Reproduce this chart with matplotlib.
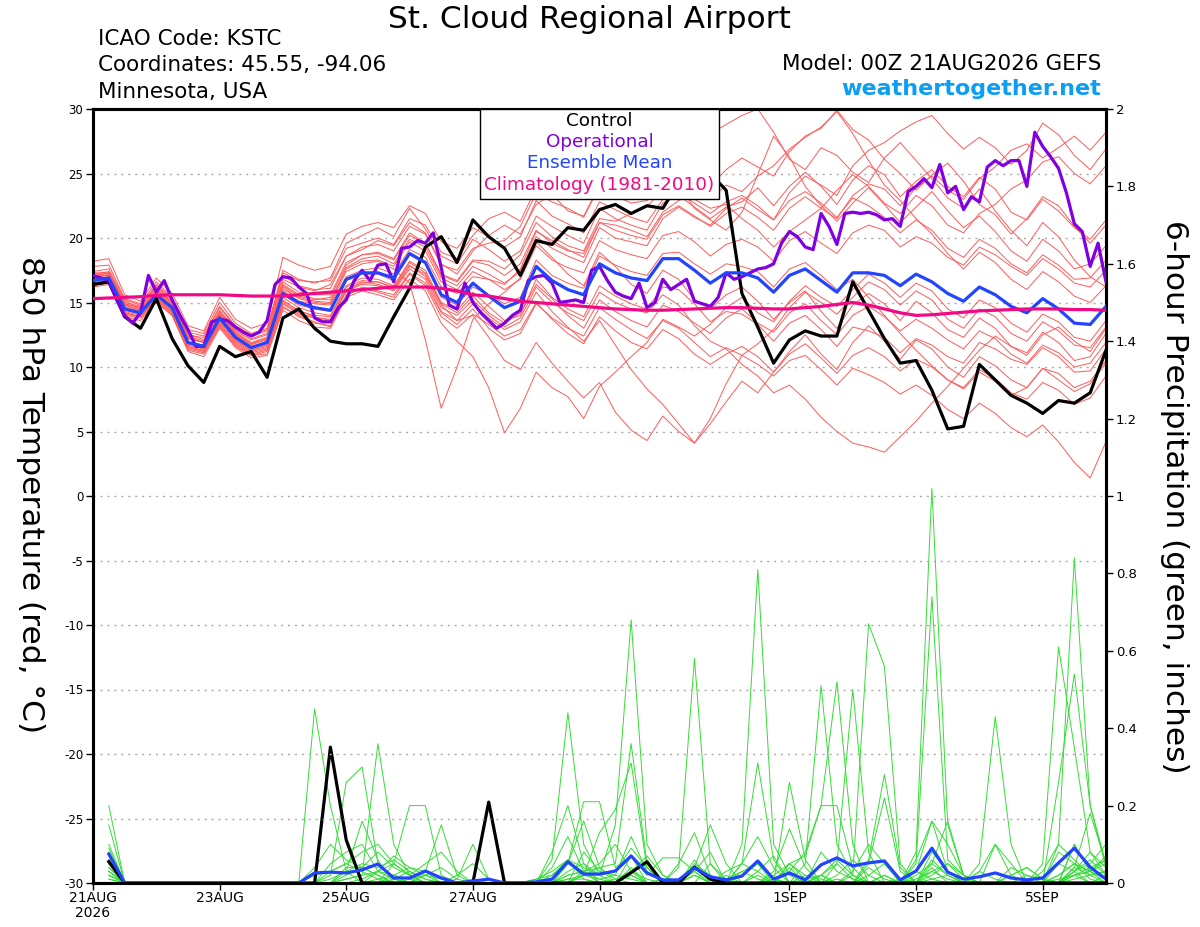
import numpy as np
import matplotlib
matplotlib.use("Agg")
import matplotlib.pyplot as plt
from matplotlib.patches import Rectangle

plt.rcParams['font.family'] = ['DejaVu Sans']
plt.rcParams['axes.unicode_minus'] = False

# ---------------- data ----------------
hours = np.arange(65) * 6          # 00Z 21AUG .. +384 h
hours_op = np.arange(129) * 3      # operational, 3-hourly
hours_pr = hours[1:]               # 6-h precip accumulations

tick_hours = [0, 48, 96, 144, 192, 264, 312, 360]
tick_labels = ["21AUG\n2026", "23AUG", "25AUG", "27AUG", "29AUG", "1SEP", "3SEP", "5SEP"]

legend_labels = ["Control", "Operational", "Ensemble Mean", "Climatology (1981-2010)"]

control_t = [16.4,16.6,13.9,13.0,15.3,12.2,10.1,8.8,11.6,10.8,11.2,9.2,13.8,
             14.5,13.0,12.0,11.8,11.8,11.6,13.9,16.1,19.3,20.1,18.1,21.4,20.1,
             19.2,17.1,19.8,19.5,20.8,20.6,22.2,22.6,21.9,22.5,22.3,24.3,25.4,
             25.0,23.7,15.7,13.1,10.3,12.1,12.8,12.4,12.4,16.6,14.4,12.2,10.3,
             10.5,8.2,5.2,5.4,10.2,9.0,7.8,7.2,6.4,7.4,7.2,8.0,11.3]

operational_t = [17.1,16.9,16.7,15.2,14.0,13.4,14.2,17.1,15.8,16.7,
                 15.2,14.0,12.9,11.6,11.6,13.5,13.7,13.6,13.1,12.7,
                 12.4,12.7,13.6,16.4,17.0,16.9,16.2,15.7,13.8,13.5,
                 13.5,14.6,15.2,16.7,17.5,16.7,17.9,18.0,16.6,19.2,
                 19.3,19.8,19.6,20.4,17.7,14.8,14.5,16.5,15.0,14.2,
                 13.6,13.0,13.4,14.0,14.4,16.7,17.0,17.1,16.5,15.0,
                 15.1,15.2,15.0,17.5,17.8,16.7,15.8,15.5,15.3,16.5,
                 14.6,15.0,16.8,16.0,16.4,16.8,15.1,14.9,14.7,15.4,
                 17.3,16.8,17.0,17.3,17.6,17.7,18.0,19.6,20.5,20.1,
                 19.3,19.1,21.9,20.9,19.5,21.9,22.0,21.9,22.0,21.8,
                 21.4,21.5,20.9,23.6,24.0,24.6,23.9,25.7,23.5,24.0,
                 22.2,23.2,22.8,25.5,26.0,25.6,26.0,26.0,24.0,28.2,
                 27.1,26.3,25.4,23.5,21.1,20.5,17.8,19.6,16.6]

mean_t = [16.7,16.9,14.5,14.2,15.6,14.6,11.9,11.6,13.8,12.3,11.5,11.9,15.7,
          15.0,14.6,14.4,16.8,17.3,17.3,16.9,18.8,18.1,15.6,15.0,16.5,15.5,
          14.6,15.1,17.8,16.7,16.0,15.6,18.0,17.3,16.9,16.7,18.4,18.4,17.5,
          16.5,17.3,17.3,16.9,15.8,17.1,17.6,16.7,15.8,17.3,17.3,17.1,16.3,
          17.2,16.6,15.7,15.1,16.2,15.6,14.7,14.2,15.3,14.5,13.4,13.3,14.7]

clim_t = [15.3,15.35,15.4,15.45,15.55,15.6,15.6,15.6,15.6,15.55,15.5,15.5,15.5,
          15.6,15.7,15.8,15.9,16.0,16.1,16.2,16.2,16.2,16.1,15.9,15.6,15.5,
          15.3,15.1,15.0,14.9,14.8,14.7,14.6,14.5,14.45,14.4,14.4,14.45,14.5,
          14.55,14.6,14.6,14.55,14.5,14.5,14.6,14.7,14.85,15.0,14.8,14.5,14.2,
          14.0,14.05,14.15,14.25,14.35,14.4,14.45,14.5,14.5,14.5,14.45,14.45,14.4]

member_t = [
 [17.2,17.4,15.1,14.6,16.3,15.2,12.6,12.1,14.4,12.9,12.2,12.6,16.8,
  16.2,15.9,16.4,18.6,19.1,19.8,19.4,21.2,20.4,18.0,17.2,19.0,20.2,
  21.0,20.3,22.6,23.4,22.1,21.7,24.1,25.0,24.2,23.6,25.8,26.9,27.5,
  28.1,28.8,29.5,30.0,28.2,26.1,25.3,27.0,26.4,25.1,24.3,26.2,27.4,
  26.0,24.6,23.1,22.3,23.8,22.1,20.6,19.4,21.2,20.1,18.3,17.0,16.2],
 [16.3,16.5,14.0,13.8,15.0,14.0,11.2,10.8,13.0,11.6,10.9,11.0,14.6,
  14.0,13.5,13.1,15.5,16.2,15.9,15.6,17.3,16.5,14.2,13.3,14.5,13.0,
  12.1,12.6,14.9,13.8,13.0,12.4,14.6,13.7,12.9,12.2,13.6,13.0,11.9,
  10.8,11.5,10.9,10.2,9.3,10.5,10.9,9.8,8.6,9.9,9.4,8.8,7.9,
  8.6,7.8,6.7,6.0,7.2,6.4,5.3,4.6,5.5,4.2,2.6,1.4,4.2],
 [17.0,17.1,14.7,14.3,15.9,14.8,12.2,11.9,14.1,12.6,11.8,12.1,16.2,
  15.3,15.0,14.9,17.4,18.0,18.2,17.6,16.5,12.1,6.8,10.0,13.7,14.9,
  15.8,16.9,19.7,18.5,17.2,16.3,18.9,17.8,16.4,15.7,17.5,16.8,15.2,
  14.5,15.6,16.2,15.1,13.7,15.0,15.9,14.3,13.0,14.8,15.7,14.9,13.6,
  15.1,14.2,12.9,12.3,13.8,13.0,11.6,11.1,12.7,11.9,10.5,10.8,12.6],
 [16.5,16.8,14.3,14.0,15.4,14.3,11.6,11.3,13.5,12.0,11.2,11.5,15.1,
  14.4,13.9,13.6,16.0,16.6,16.4,16.0,17.8,17.2,14.8,13.6,14.0,12.3,
  10.5,9.8,11.9,10.3,8.9,7.6,8.8,6.5,5.1,4.3,6.2,5.0,4.1,
  5.6,7.3,8.9,8.0,9.6,11.2,12.5,11.0,9.8,11.9,13.2,12.0,10.6,
  12.1,11.4,10.0,9.2,10.8,10.1,9.0,8.4,9.9,9.0,8.1,8.7,10.3],
 [17.8,17.9,15.3,14.9,16.6,15.4,12.9,12.6,15.0,13.4,12.6,13.0,17.5,
  16.8,16.5,16.9,19.6,20.2,20.8,20.1,22.3,20.7,18.6,18.0,19.9,19.1,
  18.2,19.0,21.7,20.9,20.2,19.6,22.3,21.5,21.0,20.6,22.7,23.3,22.4,
  21.5,22.4,22.8,23.9,22.5,24.0,25.1,24.0,22.6,24.5,25.6,24.9,23.2,
  24.4,25.3,24.0,23.2,24.7,23.8,22.0,21.4,23.0,22.1,20.8,19.9,21.4],
 [16.9,17.2,14.8,14.4,15.8,14.7,11.8,11.5,13.7,12.1,11.3,11.7,15.4,
  14.6,14.2,14.0,16.3,16.9,16.8,16.3,18.2,17.5,15.0,14.4,15.8,14.7,
  13.6,14.0,16.8,15.4,14.5,13.9,16.3,15.5,14.9,14.5,16.2,16.0,14.9,
  13.5,14.3,14.1,13.3,12.0,13.4,14.0,12.9,11.6,13.1,12.8,12.3,11.1,
  12.2,11.7,10.8,10.3,11.9,11.4,10.6,10.2,11.5,10.8,9.6,9.7,11.4],
 [16.6,16.9,14.6,14.1,15.5,14.4,11.9,11.7,14.0,12.5,11.7,12.2,16.0,
  15.4,15.1,15.0,17.7,18.4,18.6,18.0,19.9,19.3,16.9,16.3,17.8,17.2,
  16.5,17.4,20.1,19.2,18.6,18.1,20.8,20.0,19.7,19.4,21.5,22.4,21.6,
  21.0,22.3,23.1,22.2,21.4,23.5,24.8,24.1,23.3,25.6,26.8,27.4,28.3,
  29.0,29.5,28.1,26.9,27.8,27.0,25.7,26.8,28.9,28.0,26.4,25.3,26.9],
 [16.4,16.6,14.2,13.9,15.3,14.2,11.5,11.2,13.3,11.8,11.0,11.3,14.9,
  14.1,13.8,13.7,16.0,16.5,16.6,16.1,17.9,17.0,14.6,14.0,15.2,14.0,
  13.1,13.8,16.2,15.0,14.2,13.6,15.8,15.0,14.5,14.2,15.6,14.8,13.2,
  12.0,11.4,10.2,9.3,8.0,8.6,7.5,6.1,5.0,4.1,3.8,3.4,4.6,
  5.8,7.2,8.5,9.9,11.3,12.4,11.6,10.9,12.5,13.1,12.0,11.2,13.0],
 [17.3,17.3,15.0,14.7,16.2,15.1,12.4,12.3,14.6,13.1,12.4,12.8,17.1,
  16.3,16.0,16.1,18.6,19.3,19.5,19.0,20.9,20.3,17.9,17.5,19.2,19.6,
  19.8,20.9,23.5,22.8,22.3,21.6,24.0,23.3,22.7,22.9,24.6,25.3,24.6,
  24.0,25.3,26.2,25.5,24.8,26.7,27.9,28.5,29.9,28.4,27.6,26.1,25.0,
  23.7,24.9,25.8,24.4,22.6,21.8,20.3,21.5,23.2,22.5,20.9,19.6,21.0],
 [17.0,17.1,14.9,14.5,15.9,15.0,12.3,11.9,14.2,12.7,11.9,12.3,16.4,
  15.6,15.3,15.2,17.6,18.2,18.3,17.8,19.7,19.0,16.6,16.0,17.4,16.8,
  16.0,16.8,19.4,18.3,17.7,17.3,19.8,19.1,18.7,18.4,20.2,20.5,19.7,
  18.6,19.5,19.9,19.3,18.2,19.8,20.5,19.6,18.8,20.4,21.0,20.6,19.3,
  20.1,19.6,18.5,17.9,19.3,18.7,17.8,17.1,18.4,17.6,16.5,16.2,17.5],
 [16.2,16.4,13.9,13.6,15.1,14.0,11.3,11.0,13.1,11.5,10.7,10.9,14.4,
  13.6,13.1,13.0,15.4,15.9,15.6,15.2,16.8,15.9,13.4,12.0,10.8,8.4,
  4.9,6.8,9.6,8.4,7.7,6.0,8.5,9.6,10.8,11.9,13.7,13.1,12.4,
  13.3,14.6,15.4,14.2,13.5,15.1,16.3,15.4,14.7,16.0,17.2,16.5,15.4,
  16.5,15.9,14.5,13.8,15.2,14.6,13.4,12.7,14.1,13.5,12.3,12.0,13.6],
 [16.8,17.0,14.6,14.2,15.7,14.6,11.9,11.7,13.9,12.4,11.6,12.0,15.9,
  15.1,14.9,14.8,17.0,17.5,17.7,17.2,19.1,18.5,16.2,15.7,17.0,16.8,
  16.4,17.6,20.5,19.8,19.1,18.5,21.2,21.0,20.6,20.1,22.0,22.9,23.5,
  23.0,24.1,23.6,24.8,25.6,26.9,27.8,28.6,29.8,28.1,26.0,24.1,22.9,
  21.5,20.3,18.8,17.6,18.9,18.1,16.8,16.0,17.4,16.6,15.5,15.0,16.3],
 [16.5,16.7,14.1,13.9,15.2,14.1,11.4,11.1,13.2,11.7,10.9,11.2,14.7,
  13.9,13.4,13.2,15.6,16.1,15.8,15.4,17.2,16.3,13.9,13.0,14.1,13.3,
  12.4,12.9,15.0,13.7,12.6,11.8,13.9,12.8,11.9,11.4,12.9,12.2,11.0,
  10.2,11.0,11.6,10.8,9.6,11.0,11.8,10.7,9.5,10.9,11.5,10.8,9.7,
  10.6,10.0,9.0,8.4,9.8,9.1,8.0,7.5,8.8,8.2,7.1,7.6,9.3],
 [17.4,17.6,15.2,14.8,16.4,15.3,12.7,12.4,14.7,13.2,12.5,12.9,17.3,
  16.7,16.6,16.7,19.2,19.6,20.0,19.5,21.5,21.0,18.9,18.4,20.2,21.5,
  22.0,21.3,23.9,24.8,24.0,25.3,26.7,25.5,24.3,23.6,24.8,24.1,22.3,
  21.4,20.6,22.0,24.9,27.9,26.3,24.0,22.5,21.3,22.7,23.9,22.6,21.2,
  22.4,23.6,22.1,20.8,21.7,20.5,19.0,18.2,19.9,19.0,17.6,18.0,19.4],
 [16.8,17.0,14.4,14.1,15.6,14.5,11.8,11.4,13.7,12.2,11.4,11.8,15.6,
  14.8,14.5,14.3,16.7,17.2,17.2,16.7,18.7,18.0,15.4,14.8,16.2,15.6,
  14.9,15.4,18.3,17.1,16.5,16.1,18.6,17.9,17.4,17.1,18.8,18.9,18.0,
  17.2,18.0,17.8,17.4,16.2,17.6,18.1,17.1,16.0,16.8,15.4,14.0,12.6,
  11.3,10.1,9.0,8.3,9.6,8.9,7.8,8.4,9.9,9.5,8.4,8.9,10.5],
 [17.1,17.3,14.8,14.4,16.0,14.9,12.2,11.9,14.1,12.6,11.8,12.3,16.3,
  15.5,15.2,15.4,17.9,18.7,18.9,18.4,20.4,19.6,17.2,16.7,18.3,18.2,
  17.6,18.7,21.2,20.1,19.4,19.0,21.5,21.3,21.9,22.4,23.8,24.1,23.0,
  22.3,22.6,21.5,20.6,19.3,20.5,21.4,22.3,23.7,24.9,24.0,22.7,21.9,
  23.3,22.5,21.0,20.4,21.9,22.6,23.8,24.5,25.9,26.3,25.0,24.2,25.6],
 [16.4,16.6,14.2,13.9,15.3,14.3,11.6,11.2,13.4,11.9,11.1,11.4,15.0,
  14.2,13.8,13.5,15.9,16.4,16.3,15.9,17.6,16.8,14.3,13.6,14.9,13.8,
  12.9,13.5,15.8,14.3,13.1,12.0,13.6,11.7,9.8,8.3,7.1,5.6,4.1,
  6.0,8.7,10.9,11.8,12.9,14.6,15.8,15.0,14.1,15.4,16.6,16.0,14.8,
  15.9,15.2,13.7,13.0,14.5,13.9,12.6,12.0,13.5,12.8,11.7,11.5,13.1],
 [17.0,17.3,14.9,14.6,16.1,15.0,12.4,12.0,14.3,12.8,12.1,12.5,16.6,
  15.8,15.6,15.6,18.1,18.7,18.8,18.3,20.2,19.6,17.1,16.6,18.2,17.9,
  17.1,18.0,20.6,19.6,19.0,18.8,21.2,20.6,20.2,19.9,21.8,22.5,21.7,
  20.9,21.9,22.4,21.6,20.6,22.3,23.2,22.3,21.5,23.3,24.2,23.8,22.5,
  23.9,24.8,23.7,23.0,24.6,25.5,26.8,27.3,26.2,27.0,27.9,26.8,28.2],
 [16.7,16.9,14.5,14.2,15.5,14.5,11.7,11.4,13.6,12.1,11.3,11.6,15.2,
  14.3,14.0,13.9,16.2,16.7,16.6,16.2,18.1,17.3,14.9,14.2,15.5,14.2,
  13.4,14.2,16.4,15.3,14.0,13.0,15.2,14.3,13.6,13.1,14.8,14.3,13.4,
  12.6,13.8,14.5,13.4,12.7,14.2,14.9,13.6,12.5,14.0,14.7,13.9,12.8,
  13.7,13.0,12.1,11.4,12.8,12.2,11.0,10.3,11.7,11.1,10.0,10.3,11.9],
 [18.2,18.4,15.6,15.1,16.9,15.7,13.2,12.8,15.4,13.7,13.0,13.4,18.5,
  17.9,17.5,17.8,20.3,20.9,21.2,20.8,22.5,21.9,19.7,19.2,20.8,20.1,
  19.3,20.1,22.9,21.7,21.1,20.4,22.8,22.2,21.6,21.2,23.0,23.6,22.7,
  21.9,22.8,23.3,22.5,21.4,22.9,23.6,22.7,21.6,23.1,22.5,21.6,20.4,
  21.4,20.6,19.2,18.5,19.9,19.2,18.0,17.3,18.7,17.9,16.8,16.9,18.3],
]

control_p = [.055,0,0,0,0,0,0,0,0,0,0,0,0,0,.351,.111,
             0,0,0,0,0,0,0,0,.209,0,0,0,0,0,0,0,
             0,.027,.055,0,0,.041,.01,0,0,0,0,0,0,0,0,0,
             0,0,0,0,0,0,0,0,0,0,0,0,0,0,0,0]

mean_p = [.075,0,0,0,0,0,0,0,0,0,0,0,0,.026,.028,.026,
          .034,.049,.013,.013,.031,.013,0,.005,.01,0,0,.003,.01,.055,.023,.023,
          .031,.07,.026,.008,.008,.039,.016,.008,.018,.057,.01,.026,.008,.047,.065,.044,
          .052,.057,.008,.031,.09,.028,.01,.016,.026,.013,.008,.013,.052,.09,.041,.01]

member_p = [
 [.20,0,0,0,0,0,0,0,0,0,0,0,0,.45,.20,.03,
  0,0,.02,.04,.03,0,0,.01,0,0,0,0,0,.03,.05,.02,
  .15,.68,.10,.02,0,0,0,0,0,0,0,0,.05,.51,.10,.02,
  0,0,0,0,0,0,0,0,0,.02,.04,.01,0,.10,.03,.01],
 [.15,0,0,0,0,0,0,0,0,0,0,0,0,0,.02,.26,
  .30,.05,.01,0,0,0,0,0,0,0,0,0,.06,.44,.10,.02,
  0,0,0,.01,0,.03,.08,0,.10,.81,.10,.02,0,0,.01,0,
  0,.02,0,0,.04,0,0,0,0,0,0,0,0,.02,0,0],
 [.10,0,0,0,0,0,0,0,0,0,0,0,0,0,0,.01,
  .02,.36,.10,.02,0,0,0,0,0,0,0,.01,.02,.05,.03,0,
  0,.02,0,0,.04,.58,.05,0,0,0,0,0,0,.02,0,0,
  0,0,0,.08,1.02,.15,.02,0,0,0,0,0,0,.03,.06,.02],
 [.09,0,0,0,0,0,0,0,0,0,0,0,0,0,0,.03,
  .16,.06,0,0,0,0,0,0,0,0,0,0,0,.02,.03,.04,
  .05,.36,.05,0,0,0,0,0,0,.02,0,0,0,0,0,.02,
  .67,.56,.05,0,0,0,0,0,0,0,0,0,.26,.54,.20,.04],
 [.08,0,0,0,0,0,0,0,0,0,0,0,0,0,0,0,
  0,0,.05,.20,.20,.02,0,0,0,0,0,0,0,0,.02,.13,
  .19,.31,.04,0,0,.02,0,0,.05,.03,0,.26,.06,0,0,0,
  0,0,0,.05,.74,.06,.02,0,0,0,0,0,.05,.03,0,.02],
 [.07,0,0,0,0,0,0,0,0,0,0,0,0,0,0,0,
  0,0,0,0,.03,.15,.02,0,0,0,0,0,0,.05,.16,.04,
  0,0,0,0,0,0,0,0,0,0,0,.03,.08,.20,.52,.10,
  0,0,0,0,0,0,0,0,0,0,0,0,.10,.84,.20,.05],
 [.06,0,0,0,0,0,0,0,0,0,0,0,0,0,0,0,
  0,0,0,0,0,0,.01,.10,.01,0,0,0,.08,.20,.05,0,
  0,0,0,0,0,0,0,0,0,0,0,0,0,0,.05,.50,
  .08,0,0,0,0,0,0,.05,.43,.10,0,0,0,.02,.04,.06],
 [.06,0,0,0,0,0,0,0,0,0,0,0,0,0,0,0,
  0,.03,.05,.02,0,0,0,0,0,0,0,0,0,.05,.21,.21,
  .04,.07,0,0,0,0,0,.02,0,0,0,.04,0,0,0,0,
  0,0,0,0,0,0,0,0,0,0,0,.05,.61,.35,.08,.02],
 [.05,0,0,0,0,0,0,0,0,0,0,0,0,.04,.10,.06,
  .04,.02,0,0,0,0,0,0,0,0,0,0,0,0,0,0,
  0,.02,0,0,.05,.13,.02,0,.05,.31,.06,0,0,0,0,0,
  .06,.28,.04,0,0,0,0,0,0,0,0,0,0,.10,.03,0],
 [.05,0,0,0,0,0,0,0,0,0,0,0,0,0,.03,.05,
  .08,.10,.05,.02,0,0,0,0,0,0,0,0,0,0,0,0,
  0,.07,.02,.065,.065,.03,0,0,0,0,0,0,0,0,0,0,
  0,0,0,.03,.16,.10,.02,0,0,0,0,0,0,.03,.05,.10],
 [.04,0,0,0,0,0,0,0,0,0,0,0,0,0,.05,.08,
  .10,.03,.01,0,0,0,0,0,0,0,0,0,0,0,0,0,
  0,0,0,0,0,.04,.15,.05,0,0,.03,.14,.04,0,0,0,
  .05,.22,.03,0,.05,.16,.02,0,0,0,0,0,0,.04,.18,.05],
 [.04,0,0,0,0,0,0,0,0,0,0,0,0,0,0,.02,
  .04,.08,.04,.02,.05,.08,.03,0,0,0,0,0,0,0,.03,.05,
  .10,.03,0,0,0,0,0,0,0,0,.02,.05,.07,.20,.20,.04,
  0,0,0,0,.06,.02,0,0,0,0,0,.03,.10,.06,.02,0],
 [.03,0,0,0,0,0,0,0,0,0,0,0,0,0,.01,.03,
  .05,.04,.06,.03,.01,0,0,0,0,0,0,.01,.03,.06,.04,.02,
  .03,.09,.04,0,0,.05,.02,0,.03,.05,0,.05,.02,0,0,.03,
  .10,.05,0,0,.03,.05,.02,0,.10,.05,0,0,.02,.05,.03,.07],
 [.03,0,0,0,0,0,0,0,0,0,0,0,0,0,0,.01,
  .02,.03,.07,.04,.02,0,0,0,0,0,0,0,.04,.12,.03,0,
  0,.04,0,0,0,.06,0,0,0,.03,.07,0,0,.08,.03,.01,
  0,.02,0,.06,.16,.03,0,0,0,.04,.02,0,.08,.05,.01,0],
 [.03,0,0,0,0,0,0,0,0,0,0,0,0,.02,.03,.05,
  .03,.01,0,0,0,0,.02,.05,.01,0,0,0,0,0,.08,.03,
  .02,.12,.03,0,0,.04,.01,0,0,0,0,0,0,.02,.06,.02,
  0,0,0,.02,.05,.02,0,.03,.10,.02,0,0,0,.03,.08,.04],
 [.02,0,0,0,0,0,0,0,0,0,0,0,0,0,0,.04,
  .04,.02,0,0,.02,.04,.01,0,0,0,0,0,0,0,.02,.04,
  .01,0,0,0,0,.02,0,.03,.05,.12,.04,0,0,0,.02,.06,
  .02,0,0,0,.02,.05,.01,0,0,0,0,0,.02,.05,.03,.06],
 [.02,0,0,0,0,0,0,0,0,0,0,0,0,0,0,0,
  .01,.03,.02,0,0,0,0,0,0,0,0,0,.02,.06,.01,0,
  0,.03,.07,.02,0,0,.05,.01,0,0,0,.05,.01,0,0,0,
  .02,.05,.01,0,.08,.03,0,0,0,0,0,0,0,.04,.02,.03],
 [.02,0,0,0,0,0,0,0,0,0,0,0,0,0,0,0,
  0,0,.01,.03,.01,0,0,0,0,0,0,0,0,.02,.03,.01,
  0,0,0,0,.01,.03,0,0,.02,.05,.01,0,0,.02,.05,.01,
  0,0,0,.01,.03,.01,0,0,0,.02,.04,.01,0,.02,.03,.05],
 [.01,0,0,0,0,0,0,0,0,0,0,0,0,0,0,0,
  0,.01,.02,.01,0,0,0,0,0,0,0,0,0,.01,.02,.01,
  .02,.01,0,0,0,0,0,.01,.03,.01,0,0,.01,.02,0,0,
  .04,.01,0,0,.01,.02,0,.03,.01,0,0,0,.01,.02,.03,.01],
 [.01,0,0,0,0,0,0,0,0,0,0,0,0,0,0,0,
  0,0,0,.01,.02,.01,0,0,0,0,0,0,0,.01,.01,0,
  .01,.03,.01,0,0,0,0,0,0,0,.01,0,.02,.01,0,0,
  0,0,.01,.03,.01,0,0,0,0,0,.02,.01,0,.01,.02,.03],
]

# ---------------- styling ----------------
C_MEMBER_T = '#ff5a5a'
C_MEMBER_P = '#33dd33'
C_CONTROL = '#000000'
C_OPER = '#8000e0'
C_MEAN = '#2244ff'
C_CLIM = '#f00a85'
LW = 2.3

fig = plt.figure(figsize=(12, 9.27), dpi=100)
ax = fig.add_axes([93/1200, 44/927, 1013/1200, 774/927])
ax.set_xlim(0, 384)
ax.set_ylim(-30, 30)

for m in member_t:
    ax.plot(hours, m, color=C_MEMBER_T, lw=0.7, zorder=2)
ax.plot(hours, control_t, color=C_CONTROL, lw=LW, zorder=3)
ax.plot(hours_op, operational_t, color=C_OPER, lw=LW, zorder=3)
ax.plot(hours, mean_t, color=C_MEAN, lw=LW, zorder=3)
ax.plot(hours, clim_t, color=C_CLIM, lw=LW, zorder=3)

ax.set_yticks(np.arange(-30, 31, 5))
ax.set_yticklabels([str(v) for v in range(-30, 31, 5)], fontsize=8.5)
ax.set_xticks(tick_hours)
ax.set_xticklabels(tick_labels, fontsize=10, linespacing=1.05)
ax.tick_params(axis='x', direction='out', length=5, width=1, pad=1)
ax.tick_params(axis='y', direction='out', length=5, width=1, pad=2)
for v in range(-25, 30, 5):
    ax.axhline(v, color='#aaaaaa', lw=1.0, ls=(0, (1.5, 3.5)), zorder=1)

ax2 = ax.twinx()
ax2.set_ylim(0, 2)
for m in member_p:
    ax2.plot(hours_pr, m, color=C_MEMBER_P, lw=0.7, zorder=2)
ax2.plot(hours_pr, control_p, color=C_CONTROL, lw=LW, zorder=3)
ax2.plot(hours_pr, mean_p, color=C_MEAN, lw=LW, zorder=3)
pt = np.round(np.arange(0, 2.01, 0.2), 1)
ax2.set_yticks(pt)
ax2.set_yticklabels([('%g' % v) for v in pt], fontsize=9.5)
ax2.tick_params(axis='y', direction='out', length=5, width=1, pad=2)

for a in (ax, ax2):
    for s in a.spines.values():
        s.set_linewidth(2.2)
        s.set_color('black')

ax.set_zorder(ax2.get_zorder() + 1)
ax.patch.set_visible(False)

# legend box (manual, centred entries)
box = Rectangle((0.382, 0.884), 0.236, 0.116, transform=ax.transAxes,
                facecolor='white', edgecolor='black', lw=1.0, zorder=10, clip_on=False)
ax.add_patch(box)
leg_y = [0.9845, 0.9574, 0.9302, 0.9018]
for lab, col, yy in zip(legend_labels, [C_CONTROL, C_OPER, C_MEAN, C_CLIM], leg_y):
    ax.text(0.5, yy, lab, color=col, fontsize=13.2, ha='center', va='center',
            transform=ax.transAxes, zorder=11)

# header text
fig.text(589/1200, 1 - 19/927, "St. Cloud Regional Airport", fontsize=22.5, ha='center', va='center')
fig.text(98/1200, 1 - 39/927, "ICAO Code: KSTC", fontsize=15.5, ha='left', va='center')
fig.text(98/1200, 1 - 65/927, "Coordinates: 45.55, -94.06", fontsize=15.5, ha='left', va='center')
fig.text(98/1200, 1 - 92/927, "Minnesota, USA", fontsize=15.5, ha='left', va='center')
fig.text(1101/1200, 1 - 64/927, "Model: 00Z 21AUG2026 GEFS", fontsize=15.5, ha='right', va='center')
fig.text(1101/1200, 1 - 89/927, "weathertogether.net", fontsize=16, ha='right', va='center',
         color='#0a9ff5', fontweight='bold')

fig.text(30/1200, 1 - 495/927, "850 hPa Temperature (red, \u00b0C)", fontsize=22.5,
         rotation=270, ha='center', va='center')
fig.text(1175/1200, 1 - 497/927, "6-hour Precipitation (green, inches)", fontsize=22.5,
         rotation=270, ha='center', va='center')

fig.savefig("out.png", dpi=100)
